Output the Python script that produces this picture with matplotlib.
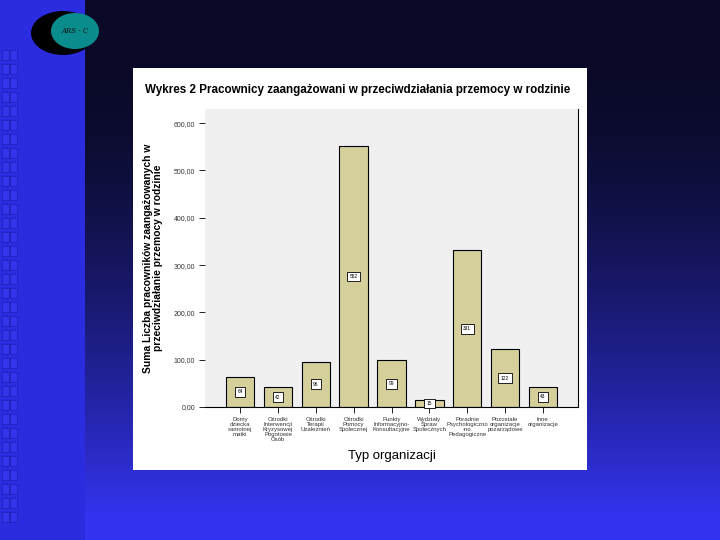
import matplotlib
matplotlib.use("Agg")
import matplotlib.pyplot as plt
import numpy as np
from matplotlib.patches import Ellipse, Rectangle

plt.rcParams["font.family"] = ["Liberation Sans", "DejaVu Sans"]

CATEGORIES = [
    "Domy\ndziecka\nsamotnej\nmatki",
    "Ośrodki\nInterwencji\nKryzysowej\nPogotowie\nOsób",
    "Ośrodki\nTerapii\nUzależnień",
    "Ośrodki\nPomocy\nSpołecznej",
    "Punkty\nInformacyjno-\nKonsultacyjne",
    "Wydziały\nSpraw\nSpołecznych",
    "Poradnie\nPsychologiczno\n-no\nPedagogiczne",
    "Pozostałe\norganizacje\npozarządowe",
    "Inne\norganizacje",
]
VALUES = [64, 42, 96, 552, 99, 15, 331, 122, 43]
Y_TICKS = [0, 100, 200, 300, 400, 500, 600]

TITLE = "Wykres 2 Pracownicy zaangażowani w przeciwdziałania przemocy w rodzinie"
Y_LABEL = "Suma Liczba pracowników zaangażowanych w\nprzeciwdziałanie przemocy w rodzinie"
X_LABEL = "Typ organizacji"

fig = plt.figure(figsize=(7.2, 5.4), dpi=100)

# slide background
bg = fig.add_axes([0, 0, 1, 1])
h, w = 540, 720
yy = np.linspace(0, 1, h)[:, None]
dark = np.array([0.04, 0.04, 0.16])
blue = np.array([0.20, 0.20, 0.93])
t = np.clip((yy - 0.15) / 0.8, 0, 1) ** 1.5
img = np.ones((h, w, 3)) * (dark * (1 - t) + blue * t)[:, None, :].reshape(h, 1, 3)
img[:, :85, :] = np.array([0.17, 0.17, 0.88])
bg.imshow(img, extent=[0, w, h, 0], aspect="auto")
for y0 in range(50, 520, 14):
    for x0 in (2, 10):
        bg.add_patch(Rectangle((x0, y0), 7, 10, facecolor="#3434ea", edgecolor="#2020b0", lw=0.5))
bg.add_patch(Ellipse((63, 33), 64, 44, facecolor="black"))
bg.add_patch(Ellipse((75, 31), 48, 36, facecolor="#0b8c8c"))
bg.text(75, 31, "ARS - C", fontsize=5, style="italic", color="#111111", ha="center", va="center", family="DejaVu Serif")
bg.set_xlim(0, w)
bg.set_ylim(h, 0)
bg.axis("off")

# white chart panel
panel = fig.add_axes([133 / w, 1 - 470 / h, (587 - 133) / w, (470 - 68) / h])
panel.set_facecolor("white")
panel.set_xticks([])
panel.set_yticks([])
for s in panel.spines.values():
    s.set_visible(False)
fig.text(145 / w, 1 - 90 / h, TITLE, fontsize=8.4, fontweight="bold", ha="left", va="center")

ax = fig.add_axes([205 / w, 1 - 407 / h, (578 - 205) / w, (407 - 109) / h])
ax.set_facecolor("#f0f0f0")
x = np.arange(len(CATEGORIES))
bars = ax.bar(x, VALUES, width=0.75, color="#d4cf9b", edgecolor="black", linewidth=0.8)
for xi, v in zip(x, VALUES):
    ax.text(xi, v / 2, str(v), fontsize=3.5, ha="center", va="center",
            bbox=dict(boxstyle="square,pad=0.5", facecolor="white", edgecolor="black", lw=0.6))
ax.set_xlim(-0.93, 8.93)
ax.set_ylim(0, 630)
ax.set_yticks(Y_TICKS)
ax.set_yticklabels([f"{v:.2f}".replace(".", ",") for v in Y_TICKS], fontsize=5, color="#333333")
ax.set_xticks(x)
ax.set_xticklabels(CATEGORIES, fontsize=4.3, color="#333333", linespacing=1.0)
ax.tick_params(axis="both", length=4, width=0.6, pad=3)
ax.spines["top"].set_visible(False)
ax.spines["left"].set_visible(False)
ax.spines["right"].set_linewidth(0.8)
ax.spines["bottom"].set_linewidth(0.8)
ax.set_ylabel(Y_LABEL, fontsize=7.4, fontweight="bold", labelpad=8, linespacing=1.0)
ax.set_xlabel(X_LABEL, fontsize=9.5, labelpad=6)

fig.savefig("out.png", dpi=100)
